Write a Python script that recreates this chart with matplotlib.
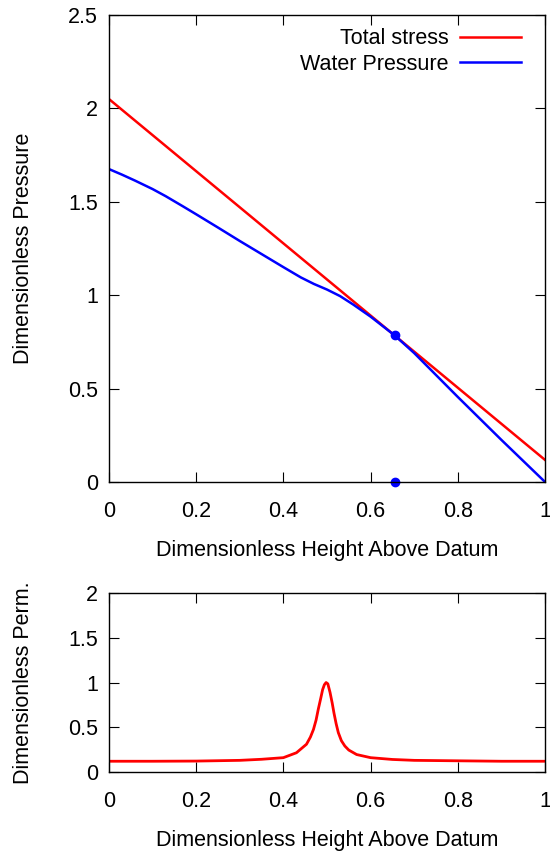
import matplotlib
matplotlib.use("Agg")
import matplotlib.pyplot as plt

plt.rcParams['font.family'] = ['Liberation Sans', 'DejaVu Sans']

# top panel: total stress and water pressure vs height
height_stress = [0.0, 1.0]
total_stress = [2.05, 0.118]

height_water = [0.0, 0.03, 0.06, 0.1, 0.13, 0.17, 0.2, 0.25, 0.3, 0.35, 0.4,
                0.44, 0.47, 0.5, 0.53, 0.56, 0.6, 0.655, 0.7, 0.8, 0.9, 1.0]
water_pressure = [1.675, 1.645, 1.613, 1.568, 1.53, 1.475, 1.433, 1.362, 1.29,
                  1.22, 1.15, 1.095, 1.06, 1.03, 0.995, 0.95, 0.885, 0.785,
                  0.69, 0.455, 0.225, 0.0]

dot_x = [0.655, 0.655]
dot_y = [0.785, 0.0]

# bottom panel: dimensionless permeability
height_perm = [0.0, 0.1, 0.2, 0.3, 0.35, 0.4, 0.43, 0.453, 0.462, 0.469, 0.475,
               0.48, 0.486, 0.49, 0.494, 0.498, 0.502, 0.507, 0.512, 0.516,
               0.521, 0.526, 0.533, 0.541, 0.55, 0.568, 0.6, 0.65, 0.7, 0.8,
               0.9, 1.0]
perm = [0.12, 0.12, 0.122, 0.13, 0.142, 0.16, 0.215, 0.31, 0.39, 0.475, 0.58,
        0.70, 0.83, 0.92, 0.975, 1.0, 0.985, 0.89, 0.77, 0.66, 0.54, 0.44, 0.35,
        0.29, 0.245, 0.195, 0.16, 0.14, 0.13, 0.125, 0.12, 0.12]

xticks = [0, 0.2, 0.4, 0.6, 0.8, 1]
xticklabels = ["0", "0.2", "0.4", "0.6", "0.8", "1"]
top_yticks = [0, 0.5, 1, 1.5, 2, 2.5]
top_yticklabels = ["0", "0.5", "1", "1.5", "2", "2.5"]
bot_yticks = [0, 0.5, 1, 1.5, 2]
bot_yticklabels = ["0", "0.5", "1", "1.5", "2"]

FS = 15.5

fig = plt.figure(figsize=(5.5, 8.57), dpi=100)
ax1 = fig.add_axes([0.198, 0.4376, 0.793, 0.545])
ax2 = fig.add_axes([0.198, 0.0992, 0.793, 0.2088])


def style(ax):
    ax.tick_params(direction='in', length=7, width=0.8, top=True, right=True,
                   labelsize=FS)
    ax.tick_params(axis='x', pad=14)
    ax.tick_params(axis='y', pad=8)
    for s in ax.spines.values():
        s.set_linewidth(1.0)
    ax.set_xlim(0, 1)
    ax.set_xticks(xticks)
    ax.set_xticklabels(xticklabels)
    ax.set_xlabel("Dimensionless Height Above Datum", fontsize=FS, labelpad=13)


ax1.plot(height_stress, total_stress, color='#ff0000', lw=1.8, label="Total stress")
ax1.plot(height_water, water_pressure, color='#0000ff', lw=1.8, label="Water Pressure")
ax1.plot(dot_x, dot_y, 'o', color='#0000ff', ms=6, clip_on=False)
ax1.set_ylim(0, 2.5)
ax1.set_yticks(top_yticks)
ax1.set_yticklabels(top_yticklabels)
style(ax1)
ax1.set_ylabel("Dimensionless Pressure", fontsize=FS, labelpad=24)
ax1.legend(loc='upper right', bbox_to_anchor=(0.964, 0.9897), frameon=False,
           fontsize=FS, markerfirst=False, handlelength=2.8, borderaxespad=0,
           labelspacing=0.2, handletextpad=0.55)

ax2.plot(height_perm, perm, color='#ff0000', lw=2.0)
ax2.set_ylim(0, 2)
ax2.set_yticks(bot_yticks)
ax2.set_yticklabels(bot_yticklabels)
style(ax2)
ax2.set_ylabel("Dimensionless Perm.", fontsize=FS, labelpad=24)

fig.savefig("out.png", dpi=100)
